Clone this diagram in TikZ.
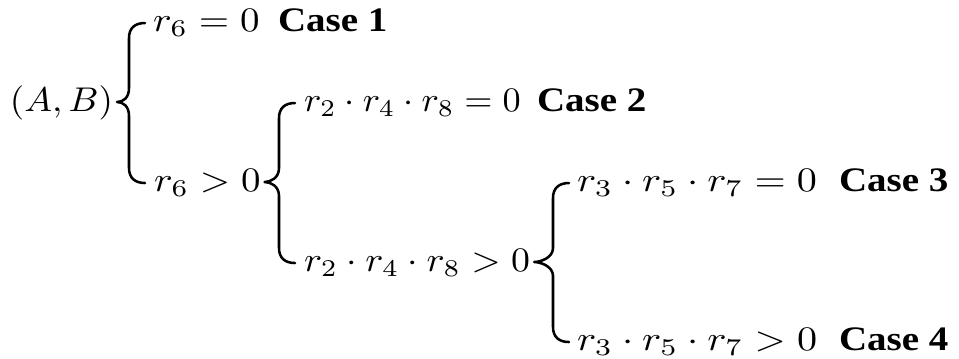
\documentclass[tikz,border=0pt]{standalone}
\usepackage{fontspec}
\usetikzlibrary{calc}
\newfontfamily\casefont{Liberation Serif}
\tikzset{
  lbl/.style={inner sep=0pt, outer sep=0pt, anchor=base west, yscale=0.88},
  casebox/.style={lbl, font=\casefont\bfseries},
  cbr/.style={line width=0.65pt, line cap=round, line join=round},
}
% #1 = middle point, #2 = top tip, #3 = bottom tip
\newcommand\casebrace[3]{%
  \coordinate (St) at ($(#2)+(-16,0)$);
  \coordinate (S) at (St |- #1);
  \draw[cbr] (#2) .. controls ($(#2)+(-10,0)$) and ($(S|-#2)+(0,5)$) .. ($(S|-#2)+(0,15)$)
    -- ($(S)+(0,-14)$) .. controls ($(S)+(0,-4)$) and ($(#1)+(6,0)$) .. (#1)
    .. controls ($(#1)+(6,0)$) and ($(S)+(0,4)$) .. ($(S)+(0,14)$)
    -- ($(S|-#3)+(0,-15)$) .. controls ($(S|-#3)+(0,-5)$) and ($(#3)+(-10,0)$) .. (#3);}
\begin{document}
\begin{tikzpicture}[x=0.2564pt, y=-0.2564pt]
\useasboundingbox (0,0) rectangle (959,358);
% nodes
\node[lbl, xscale=0.95] (n0) at (10,111) {$(A,B)$};
\node[lbl] (n1) at (153,31) {$r_6=0$};
\node[casebox] (c1) at (278,31) {Case 1};
\node[lbl] (n2) at (154,191) {$r_6>0$};
\node[lbl, xscale=0.93] (n3) at (304,111) {$r_2\cdot r_4\cdot r_8=0$};
\node[casebox] (c2) at (537,111) {Case 2};
\node[lbl, xscale=0.97] (n4) at (304,271) {$r_2\cdot r_4\cdot r_8>0$};
\node[lbl, xscale=1.03] (n5) at (577,191) {$r_3\cdot r_5\cdot r_7=0$};
\node[casebox] (c3) at (839,191) {Case 3};
\node[lbl, xscale=1.03] (n6) at (577,350) {$r_3\cdot r_5\cdot r_7>0$};
\node[casebox] (c4) at (839,350) {Case 4};
% brace end points
\coordinate (m1) at ($(n0.base east)+(4,-9)$);
\coordinate (t1) at ($(n1.base west)+(-8,-8)$);
\coordinate (b1) at ($(n2.base west)+(-9,-8)$);
\coordinate (m2) at ($(n2.base east)+(4,-9)$);
\coordinate (t2) at ($(n3.base west)+(-9,-8)$);
\coordinate (b2) at ($(n4.base west)+(-9,-8)$);
\coordinate (m3) at ($(n4.base east)+(4,-9)$);
\coordinate (t3) at ($(n5.base west)+(-8,-8)$);
\coordinate (b3) at ($(n6.base west)+(-8,-8)$);
\casebrace{m1}{t1}{b1}
\casebrace{m2}{t2}{b2}
\casebrace{m3}{t3}{b3}
\end{tikzpicture}
\end{document}
